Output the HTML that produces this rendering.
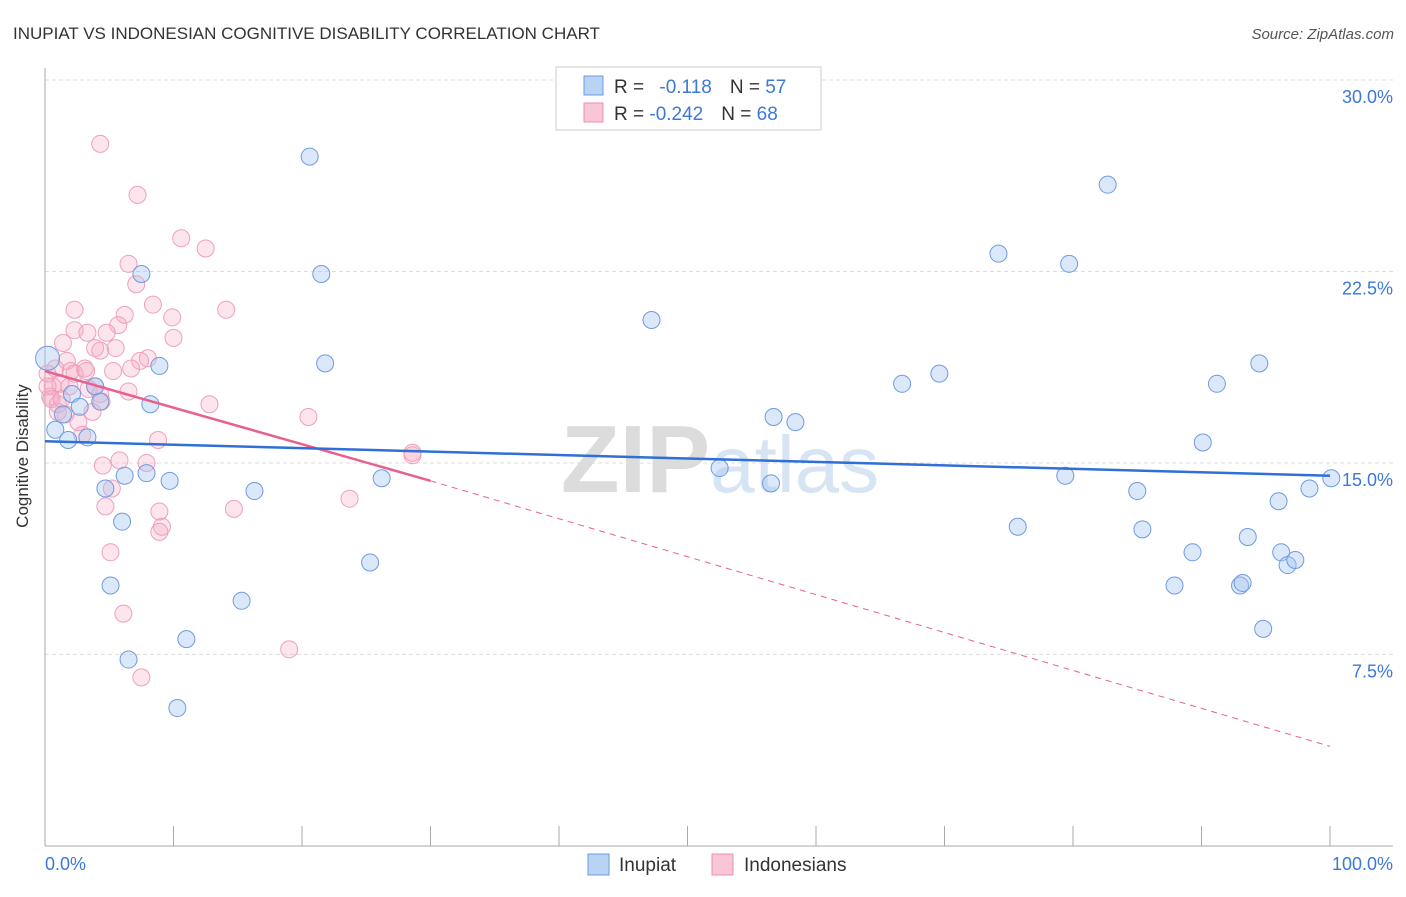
<!DOCTYPE html>
<html><head><meta charset="utf-8"><style>
body{margin:0;background:#fff;font-family:"Liberation Sans",sans-serif;}
svg text{font-family:"Liberation Sans",sans-serif;}
</style></head><body>
<svg width="1406" height="892" id="c">
<text x="13" y="39" font-size="17" fill="#333">INUPIAT VS INDONESIAN COGNITIVE DISABILITY CORRELATION CHART</text>
<text x="1394" y="39" font-size="15" fill="#555" font-style="italic" text-anchor="end">Source: ZipAtlas.com</text>
<text x="720" y="492" font-size="96" fill="#e4e4e4" text-anchor="middle" font-family="Liberation Serif"><tspan font-weight="bold" fill="#dcdcdc">ZIP</tspan><tspan fill="#d6e4f3" font-family="Liberation Sans" font-size="80">atlas</tspan></text>
<g id="grid"></g>
<line x1="45" y1="68" x2="45" y2="846" stroke="#aaa"/>
<line x1="45" y1="846" x2="1393" y2="846" stroke="#aaa"/>
<text x="28" y="456" font-size="17" fill="#333" text-anchor="middle" transform="rotate(-90 28 456)">Cognitive Disability</text>
<text x="45" y="870" font-size="18" fill="#3b78d8">0.0%</text>
<text x="1393" y="870" font-size="18" fill="#3b78d8" text-anchor="end">100.0%</text>
<g id="pts"></g>
<g id="lines"></g>
<g>
<rect x="556" y="67" width="265" height="63" fill="#fff" stroke="#ccc"/>
<rect x="584" y="76" width="19" height="19" fill="#b9d3f5" stroke="#6b9be0"/>
<rect x="584" y="103" width="19" height="19" fill="#f9c6d6" stroke="#ec8fae"/>
<text x="614" y="93" font-size="19" fill="#333">R = <tspan fill="#3b78d8" dx="10">-0.118</tspan><tspan dx="18" fill="#333">N = </tspan><tspan fill="#3b78d8">57</tspan></text>
<text x="614" y="120" font-size="19" fill="#333">R = <tspan fill="#3b78d8">-0.242</tspan><tspan dx="18" fill="#333">N = </tspan><tspan fill="#3b78d8">68</tspan></text>
</g>
<g>
<rect x="588" y="854" width="21" height="21" fill="#b9d3f5" stroke="#6b9be0"/>
<text x="619" y="871" font-size="19" fill="#333">Inupiat</text>
<rect x="712" y="854" width="21" height="21" fill="#f9c6d6" stroke="#ec8fae"/>
<text x="744" y="871" font-size="19" fill="#333">Indonesians</text>
</g>
</svg>
<script>
const yTicks=[7.5,15,22.5,30];
const yTickLabels=["7.5%","15.0%","22.5%","30.0%"];
const xTicks=[10,20,30,40,50,60,70,80,90,100];
const inupiatX=[0.2,0.8,1.8,1.4,2.1,2.7,3.3,3.9,4.3,4.7,6.0,6.2,5.1,6.5,7.5,7.9,8.2,8.9,9.7,10.3,11.0,15.3,16.3,20.6,21.5,21.8,25.3,26.2,47.2,52.5,56.5,56.7,58.4,66.7,69.6,74.2,75.7,79.4,79.7,82.7,85.0,85.4,87.9,89.3,90.1,91.2,93.0,93.2,93.6,94.5,94.8,96.0,96.2,96.7,97.3,98.4,100.1];
const inupiatY=[19.1,16.3,15.9,16.9,17.7,17.2,16.0,18.0,17.4,14.0,12.7,14.5,10.2,7.3,22.4,14.6,17.3,18.8,14.3,5.4,8.1,9.6,13.9,27.0,22.4,18.9,11.1,14.4,20.6,14.8,14.2,16.8,16.6,18.1,18.5,23.2,12.5,14.5,22.8,25.9,13.9,12.4,10.2,11.5,15.8,18.1,10.2,10.3,12.1,18.9,8.5,13.5,11.5,11.0,11.2,14.0,14.4];
const indoX=[4.3,7.2,10.6,12.5,6.5,7.1,14.1,2.3,8.4,9.9,6.2,5.7,2.3,3.3,4.8,10.0,1.4,3.9,5.5,4.3,8.0,7.4,1.7,3.1,2.0,0.8,0.2,2.3,3.2,6.7,5.3,1.2,0.6,3.4,6.5,0.4,1.0,4.4,3.7,1.6,2.6,2.9,20.5,12.8,8.8,4.5,5.8,7.9,5.2,4.7,8.9,9.1,8.9,14.7,23.7,28.6,28.6,5.1,6.1,7.5,19.0,0.2,0.5,1.0,1.3,1.9,3.9,4.3];
const indoY=[27.5,25.5,23.8,23.4,22.8,22.0,21.0,21.0,21.2,20.7,20.8,20.4,20.2,20.1,20.1,19.9,19.7,19.5,19.5,19.4,19.1,19.0,19.0,18.7,18.6,18.7,18.5,18.5,18.6,18.7,18.6,18.1,18.0,17.9,17.8,17.6,17.3,17.4,17.0,16.9,16.6,16.1,16.8,17.3,15.9,14.9,15.1,15.0,14.0,13.3,13.1,12.5,12.3,13.2,13.6,15.4,15.3,11.5,9.1,6.6,7.7,18.0,17.5,17.0,17.5,18.0,18.0,17.7];
const X=v=>45+v*12.85, Y=v=>80+(30-v)*25.53;
const NS="http://www.w3.org/2000/svg";
function mk(t,a,p){const e=document.createElementNS(NS,t);for(const k in a)e.setAttribute(k,a[k]);p.appendChild(e);return e;}
const g=document.getElementById('grid');
yTicks.forEach((v,i)=>{
 const l=mk('line',{x1:45,x2:1393,y1:Y(v),y2:Y(v),stroke:'#ddd','stroke-dasharray':'4,3'},g);
 
 
 const t=mk('text',{x:1393,y:Y(v)+23,'font-size':18,fill:'#3b78d8','text-anchor':'end'},g);
 t.textContent=yTickLabels[i];
 
 
});
xTicks.forEach(v=>{
 const l=mk('line',{x1:X(v),x2:X(v),y1:826,y2:846,stroke:'#aaa'},g);
 
 
});
const p=document.getElementById('pts');
indoX.forEach((x,i)=>{
 const c=mk('circle',{cx:X(x),cy:Y(indoY[i]),r:8.5,fill:'rgba(246,170,196,0.3)',stroke:'#efa0ba','stroke-width':1},p);
 
 
});
inupiatX.forEach((x,i)=>{
 const c=mk('circle',{cx:X(x),cy:Y(inupiatY[i]),r:i===0?12:8.5,fill:'rgba(165,198,240,0.4)',stroke:'#6f9be0','stroke-width':1},p);
 
 
});
const L=document.getElementById('lines');
const pi=[18.6,14.3], pe=3.9;
let e=mk('line',{x1:X(0),y1:Y(pi[0]),x2:X(30),y2:Y(pi[1]),stroke:'#e8608f','stroke-width':2.5},L);


e=mk('line',{x1:X(30),y1:Y(pi[1]),x2:X(100),y2:Y(pe),stroke:'#e8608f','stroke-width':1,'stroke-dasharray':'6,5'},L);


const bl=[15.85,14.5];
e=mk('line',{x1:X(0),y1:Y(bl[0]),x2:X(100),y2:Y(bl[1]),stroke:'#2f6fd6','stroke-width':2.5},L);


</script>
</body></html>
